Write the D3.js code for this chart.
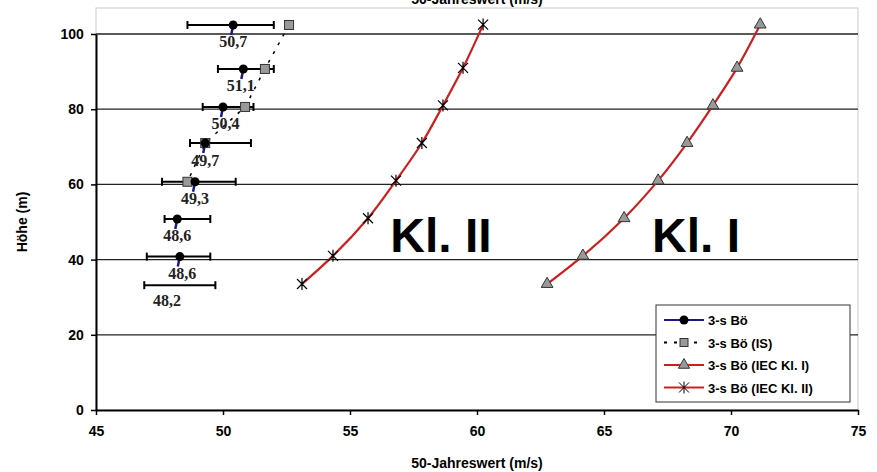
<!DOCTYPE html>
<html><head><meta charset="utf-8">
<script src="https://cdn.jsdelivr.net/npm/d3@7"></script>
<style>body{margin:0;background:#fff}text{font-family:"Liberation Sans",Arial,sans-serif}text.serif{font-family:"Liberation Serif","Times New Roman",serif}</style>
</head><body><div id="chart"></div>
<script>
// measured 3-s gust
var hMeas = [102.4, 90.7, 80.6, 71, 60.7, 50.8, 40.8, 33.2];
var vMeas = [50.4, 50.8, 50.0, 49.3, 48.9, 48.2, 48.3, null];
var errLo = [48.6, 49.8, 49.2, 48.7, 47.6, 47.7, 47.0, 46.9];
var errHi = [52.0, 52.0, 51.2, 51.1, 50.5, 49.5, 49.5, 49.7];
var labels = ["50,7", "51,1", "50,4", "49,7", "49,3", "48,6", "48,6", "48,2"];
var labelX = [50.4, 50.7, 50.1, 49.3, 48.9, 48.2, 48.4, 47.8];
var labelH = [96.5, 84.8, 74.8, 65, 54.9, 45.0, 34.9, 27.7];
// IS series
var hIS = [102.4, 90.7, 80.6, 71, 60.7];
var vIS = [52.6, 51.65, 50.87, 49.3, 48.6];
// IEC classes
var hIEC = [33.5, 41, 51, 61, 71, 81, 91, 102.5];
var vKl1 = [62.76, 64.17, 65.79, 67.13, 68.27, 69.29, 70.24, 71.15];
var vKl2 = [53.11, 54.33, 55.71, 56.81, 57.83, 58.66, 59.45, 60.24];
var xTicks = [45, 50, 55, 60, 65, 70, 75];
var yTicks = [0, 20, 40, 60, 80, 100];

var W = 877, H = 472;
var svg = d3.select("#chart").append("svg").attr("width", W).attr("height", H);
var x = d3.scaleLinear().domain([45, 75]).range([96, 858]);
var y = d3.scaleLinear().domain([0, 100]).range([410, 34]);

// plot border + grid
svg.append("rect").attr("x", 96).attr("y", 8).attr("width", 762).attr("height", 402)
  .attr("fill", "none").attr("stroke", "#ccc");
svg.selectAll(".grid").data(yTicks.slice(1)).enter().append("line")
  .attr("x1", 96).attr("x2", 858).attr("y1", d => y(d)).attr("y2", d => y(d))
  .attr("stroke", "#222").attr("stroke-width", 1.3);

var xa = svg.append("g").attr("transform", "translate(0,410)")
  .call(d3.axisBottom(x).tickValues(xTicks).tickSize(5).tickSizeOuter(0));
var ya = svg.append("g").attr("transform", "translate(96,0)")
  .call(d3.axisLeft(y).tickValues(yTicks).tickSize(5).tickSizeOuter(0));
[xa, ya].forEach(function(a) {
  a.select(".domain").attr("stroke", "#000").attr("stroke-width", 2);
  a.selectAll("line").attr("stroke", "#000").attr("stroke-width", 1.5);
  a.selectAll("text").attr("font-size", 14).attr("font-weight", "bold").attr("fill", "#000");
});
xa.selectAll("text").attr("dy", "1.3em");
ya.selectAll("text").attr("dx", "-0.3em");
svg.append("text").attr("x", 477).attr("y", 468).attr("text-anchor", "middle")
  .attr("font-size", 14).attr("font-weight", "bold").text("50-Jahreswert (m/s)");
svg.append("text").attr("x", 477).attr("y", 4).attr("text-anchor", "middle")
  .attr("font-size", 14).attr("font-weight", "bold").text("50-Jahreswert (m/s)");
svg.append("text").attr("transform", "translate(27,222) rotate(-90)").attr("text-anchor", "middle")
  .attr("font-size", 14).attr("font-weight", "bold").text("Höhe (m)");

// error bars
hMeas.forEach(function(h, i) {
  var g = svg.append("g").attr("stroke", "#000").attr("stroke-width", 2);
  g.append("line").attr("x1", x(errLo[i])).attr("x2", x(errHi[i])).attr("y1", y(h)).attr("y2", y(h));
  [errLo[i], errHi[i]].forEach(function(v) {
    g.append("line").attr("x1", x(v)).attr("x2", x(v)).attr("y1", y(h) - 4).attr("y2", y(h) + 4);
  });
});
// IS dashed
svg.append("path").datum(d3.range(hIS.length))
  .attr("d", d3.line().x(i => x(vIS[i])).y(i => y(hIS[i])))
  .attr("fill", "none").attr("stroke", "#000").attr("stroke-width", 1.5).attr("stroke-dasharray", "3,7");
svg.selectAll(".sq").data(d3.range(hIS.length)).enter().append("rect")
  .attr("x", i => x(vIS[i]) - 4.5).attr("y", i => y(hIS[i]) - 4.5).attr("width", 9).attr("height", 9)
  .attr("fill", "#999").attr("stroke", "#333");
// measured points
hMeas.forEach(function(h, i) {
  if (vMeas[i] == null) return;
  svg.append("line").attr("x1", x(vMeas[i])).attr("x2", x(vMeas[i]) - 2).attr("y1", y(h)).attr("y2", y(h) + 10)
    .attr("stroke", "#1a1a80").attr("stroke-width", 2.5);
  svg.append("circle").attr("cx", x(vMeas[i])).attr("cy", y(h)).attr("r", 4.5).attr("fill", "#000");
});
svg.selectAll(".lab").data(labels).enter().append("text").attr("class", "serif")
  .attr("x", (d, i) => x(labelX[i])).attr("y", (d, i) => y(labelH[i]))
  .attr("text-anchor", "middle").attr("font-weight", "bold")
  .attr("font-size", 16).attr("fill", "#222").text(d => d);

// IEC lines
var line = d3.line().x(d => x(d[0])).y(d => y(d[1])).curve(d3.curveMonotoneY);
[vKl1, vKl2].forEach(function(vs, k) {
  var pts = vs.map((v, i) => [v, hIEC[i]]);
  svg.append("path").datum(pts).attr("d", line).attr("fill", "none")
    .attr("stroke", "#cc2020").attr("stroke-width", 2.2);
  pts.forEach(function(p) {
    var cx = x(p[0]), cy = y(p[1]);
    if (k == 0) {
      svg.append("path").attr("d", d3.symbol(d3.symbolTriangle, 60)())
        .attr("transform", "translate(" + cx + "," + cy + ")").attr("fill", "#999").attr("stroke", "#333");
    } else {
      svg.append("path").attr("d", "M-5,-5L5,5M-5,5L5,-5M0,-6L0,6")
        .attr("transform", "translate(" + cx + "," + cy + ")").attr("stroke", "#000").attr("stroke-width", 1.2);
    }
  });
});
svg.append("text").attr("x", 441).attr("y", 252).attr("text-anchor", "middle")
  .attr("font-size", 48).attr("font-weight", "bold").text("Kl. II");
svg.append("text").attr("x", 696).attr("y", 252).attr("text-anchor", "middle")
  .attr("font-size", 48).attr("font-weight", "bold").text("Kl. I");

// legend
var lg = svg.append("g").attr("transform", "translate(656,305)");
lg.append("rect").attr("width", 194).attr("height", 97).attr("fill", "#fff").attr("stroke", "#333");
var names = ["3-s Bö", "3-s Bö (IS)", "3-s Bö (IEC Kl. I)", "3-s Bö (IEC Kl. II)"];
names.forEach(function(n, i) {
  var yy = 15 + i * 22.5;
  var col = i == 0 ? "#1a1a80" : i == 1 ? "#000" : "#cc2020";
  lg.append("line").attr("x1", 8).attr("x2", 48).attr("y1", yy).attr("y2", yy)
    .attr("stroke", col).attr("stroke-width", 2).attr("stroke-dasharray", i == 1 ? "3,7" : null);
  if (i == 0) lg.append("circle").attr("cx", 28).attr("cy", yy).attr("r", 4.5).attr("fill", "#000");
  if (i == 1) lg.append("rect").attr("x", 24).attr("y", yy - 4).attr("width", 8).attr("height", 8).attr("fill", "#999").attr("stroke", "#333");
  if (i == 2) lg.append("path").attr("d", d3.symbol(d3.symbolTriangle, 55)()).attr("transform", "translate(28," + yy + ")").attr("fill", "#999").attr("stroke", "#333");
  if (i == 3) lg.append("path").attr("d", "M-5,-5L5,5M-5,5L5,-5M0,-6L0,6").attr("transform", "translate(28," + yy + ")").attr("stroke", "#000");
  lg.append("text").attr("x", 52).attr("y", yy + 5).attr("font-size", 13).attr("font-weight", "bold").text(n);
});
</script></body></html>
